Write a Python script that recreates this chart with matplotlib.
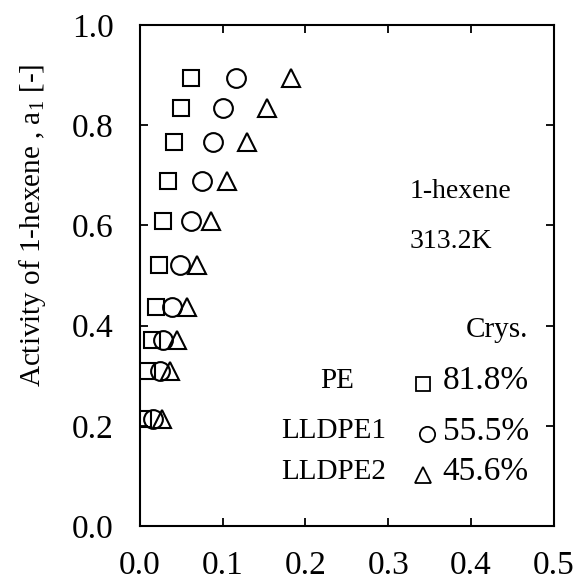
import matplotlib
matplotlib.use("Agg")
import matplotlib.pyplot as plt

plt.rcParams['font.family'] = ['Liberation Serif', 'DejaVu Serif']
plt.rcParams['mathtext.fontset'] = 'custom'
plt.rcParams['mathtext.rm'] = 'Liberation Serif'

# sorbed mass fraction of 1-hexene in each polymer vs. activity a1
a1 = [0.213, 0.309, 0.372, 0.438, 0.522, 0.608, 0.689, 0.767, 0.835, 0.894]
w_pe = [0.004, 0.0085, 0.0145, 0.019, 0.023, 0.028, 0.034, 0.041, 0.0495, 0.0616]
w_lldpe1 = [0.016, 0.024, 0.028, 0.039, 0.048, 0.0616, 0.075, 0.088, 0.101, 0.116]
w_lldpe2 = [0.0265, 0.036, 0.045, 0.057, 0.069, 0.086, 0.105, 0.129, 0.153, 0.182]

names = ['PE', 'LLDPE1', 'LLDPE2']
crys = ['81.8%', '55.5%', '45.6%']
markers = ['s', 'o', '^']

fig = plt.figure(figsize=(5.78, 5.85), dpi=100)
ax = fig.add_axes([0.242, 0.101, 0.716, 0.856])

for w, m, ms in zip([w_pe, w_lldpe1, w_lldpe2], markers, [11.5, 13.5, 13]):
    ax.plot(w, a1, linestyle='none', marker=m, markersize=ms,
            markerfacecolor='none', markeredgecolor='black', markeredgewidth=1.5)

ax.set_xlim(0, 0.5)
ax.set_ylim(0, 1.0)
ax.set_xticks([0.0, 0.1, 0.2, 0.3, 0.4, 0.5])
ax.set_yticks([0.0, 0.2, 0.4, 0.6, 0.8, 1.0])
ax.set_xticklabels(['0.0', '0.1', '0.2', '0.3', '0.4', '0.5'])
ax.set_yticklabels(['0.0', '0.2', '0.4', '0.6', '0.8', '1.0'])
ax.tick_params(direction='in', top=True, right=True, length=6, width=1.3,
               labelsize=24)
ax.tick_params(axis='x', pad=18)
ax.tick_params(axis='y', pad=19)
for s in ax.spines.values():
    s.set_linewidth(1.5)

ax.set_ylabel('Activity of 1-hexene , a$_1$ [-]', fontsize=21)
ax.yaxis.set_label_coords(-0.222, 0.6)

ax.text(0.326, 0.667, '1-hexene', fontsize=20, ha='left', va='center')
ax.text(0.326, 0.568, '313.2K', fontsize=20, ha='left', va='center')
ax.text(0.431, 0.392, 'Crys.', fontsize=21, ha='center', va='center')

# hand-made key: name, marker, crystallinity
name_x = [0.238, 0.298, 0.298]
name_ha = ['center', 'right', 'right']
key_y = [0.289, 0.189, 0.108]
key_mx = [0.342, 0.347, 0.342]
key_ms = [9.5, 11, 11]
for nm, c, m, nx, ha, y, mx, ms in zip(names, crys, markers, name_x, name_ha,
                                        key_y, key_mx, key_ms):
    ax.text(nx, y, nm, fontsize=21, ha=ha, va='center')
    ax.plot([mx], [y - 0.006], linestyle='none', marker=m, markersize=ms,
            markerfacecolor='none', markeredgecolor='black', markeredgewidth=1.3)
    ax.text(0.366, y, c, fontsize=24, ha='left', va='center')

fig.savefig('out.png', dpi=100)
